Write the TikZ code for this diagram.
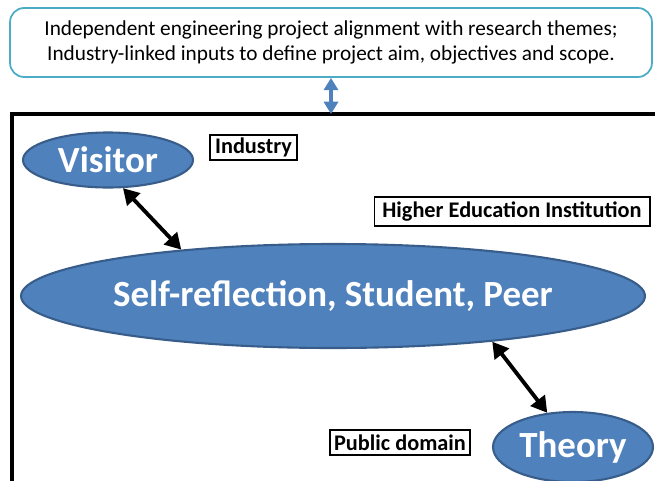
\documentclass[tikz,border=0pt]{standalone}
\usepackage{fontspec}
\setmainfont{Carlito}
\usetikzlibrary{shapes.geometric,arrows.meta}
\definecolor{capblue}{RGB}{79,129,189}
\definecolor{capedge}{RGB}{56,93,138}
\definecolor{capteal}{RGB}{75,172,198}
\tikzset{
  bubble/.style={ellipse, draw=capedge, line width=1.2pt, fill=capblue, text=white, inner sep=0pt, font=\bfseries\fontsize{21}{24}\selectfont},
  tag/.style={draw, line width=0.6pt, inner sep=0pt, font=\bfseries\fontsize{12.7}{14}\selectfont},
  link/.style={{Triangle[length=9pt,width=10pt]}-{Triangle[length=9pt,width=10pt]}, line width=2.2pt}
}
\begin{document}
\begin{tikzpicture}[x=0.02cm,y=-0.02cm]
	\useasboundingbox (0,0) rectangle (655,480);
	\clip (0,0) rectangle (655,480);
	% aims box on top
	\node (aims) [draw=capteal, line width=1pt, rounded corners=8pt, minimum width=12.84cm, minimum height=1.38cm, align=center, font=\fontsize{12.1}{14.5}\selectfont] at (331,42.5) {Independent engineering project alignment with research themes;\\ Industry-linked inputs to define project aim, objectives and scope.};
	% frame
	\draw [line width=1.8pt] (12,500) |- (680,114);
	\coordinate (frametop) at (331,114);
	\draw [{Triangle[length=7pt,width=8pt]}-{Triangle[length=7pt,width=8pt]}, line width=2.5pt, capblue] (aims.south) -- (frametop);
	% ellipses
	\node (visitor) [bubble, minimum width=3.4cm, minimum height=1.1cm] at (108,160) {Visitor};
	\node (self) [bubble, minimum width=12.48cm, minimum height=2.08cm] at (333,296) {Self-reflection, Student, Peer};
	\node (theory) [bubble, minimum width=3.2cm, minimum height=1.4cm] at (573,447) {Theory};
	% labels
	\node (industry) [tag, minimum width=1.74cm, minimum height=0.5cm] at (253.5,147.5) {Industry};
	\node (hei) [tag, minimum width=5.52cm, minimum height=0.58cm] at (512,211.5) {Higher Education Institution};
	\node (public) [tag, minimum width=2.8cm, minimum height=0.5cm] at (400,442.5) {Public domain};
	% links
	\draw [link] (visitor.-62) -- (self.163);
	\draw [link] (self.-16) -- (theory.127);
\end{tikzpicture}
\end{document}
